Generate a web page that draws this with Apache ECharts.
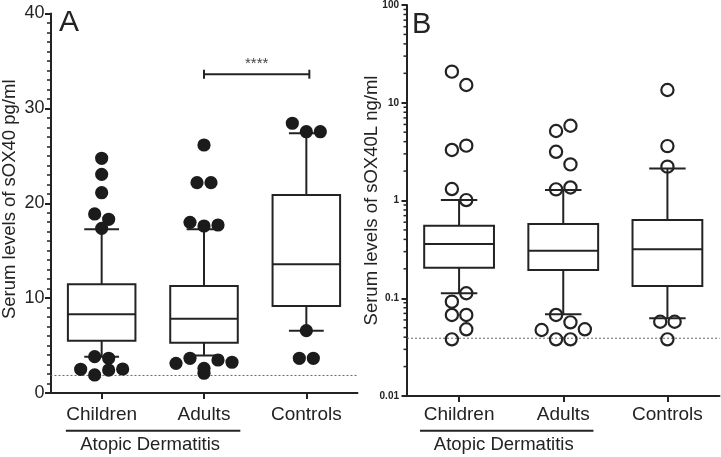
<!DOCTYPE html>
<html><head><meta charset="utf-8">
<script src="https://cdn.jsdelivr.net/npm/echarts@6/dist/echarts.min.js"></script>
<style>html,body{margin:0;padding:0;background:#fff}#c{width:721px;height:457px}</style>
</head><body><div id="c"></div>
<script>
// ---------- data ----------
const categories = ['Children', 'Adults', 'Controls'];
const groupLabel = 'Atopic Dermatitis';

// Panel A : sOX40 pg/ml (linear)
const aTitle = 'Serum levels of sOX40 pg/ml';
const aLowerWhisker = [3.83, 3.95, 6.57];
const aQ1 = [5.51, 5.3, 9.17];
const aMedian = [8.3, 7.83, 13.57];
const aQ3 = [11.46, 11.28, 20.87];
const aUpperWhisker = [17.25, 17.25, 27.37];
const aChildrenPoints = [24.74, 23.05, 21.11, 18.87, 18.31, 17.36, 3.83, 3.66, 2.5, 1.9, 2.42, 2.53];
const aAdultsPoints = [26.14, 22.17, 22.17, 17.99, 17.6, 17.71, 3.13, 3.66, 2.6, 3.48, 3.24, 2.08];
const aControlsPoints = [28.43, 27.54, 27.54, 6.57, 3.66, 3.66];
const aDetectionLimit = 1.85;
const sigFrom = 'Adults', sigTo = 'Controls', sigValue = 33.6, sigLabel = '****';

// Panel B : sOX40L ng/ml (log)
const bTitle = 'Serum levels of sOX40L ng/ml';
const bLowerWhisker = [0.1125, 0.0686, 0.0624];
const bQ1 = [0.205, 0.1945, 0.1334];
const bMedian = [0.359, 0.306, 0.317];
const bQ3 = [0.552, 0.575, 0.63];
const bUpperWhisker = [1.01, 1.28, 2.13];
const bChildrenPoints = [20.8, 15.2, 3.29, 3.64, 1.31, 1.01, 0.0923, 0.1125, 0.0675, 0.0675, 0.038, 0.0481];
const bAdultsPoints = [5.14, 5.82, 3.15, 2.34, 1.30, 1.36, 0.0675, 0.0567, 0.0473, 0.038, 0.038, 0.0481];
const bControlsPoints = [13.5, 3.6, 2.22, 0.0575, 0.0575, 0.038];
const bDetectionLimit = 0.039;
const bTickLabels = ['0.01', '0.1', '1', '10', '100'];

// ---------- helpers ----------
const FONT = "'Liberation Sans', Arial, Helvetica, sans-serif";
const INK = '#232323';

function withCat(arrs) {
  const out = [];
  arrs.forEach((arr, ci) => arr.forEach(v => out.push([ci, v])));
  return out;
}
const aDots = withCat([aChildrenPoints, aAdultsPoints, aControlsPoints]);
const bDots = withCat([bChildrenPoints, bAdultsPoints, bControlsPoints]);
const bMinorTicks = [];
for (let e = -2; e <= 1; e++) for (let m = 2; m <= 9; m++) bMinorTicks.push([0, m * Math.pow(10, e)]);

function boxRender(lower, q1, med, q3, upper, boxFrac, capFrac) {
  return function (params, api) {
    const i = params.dataIndex;
    const band = api.size([1, 0])[0];
    const bw = band * boxFrac, cw = band * capFrac;
    const x = api.coord([i, med[i]])[0];
    const y = v => api.coord([i, v])[1];
    const yl = y(lower[i]), y1 = y(q1[i]), ym = y(med[i]), y3 = y(q3[i]), yu = y(upper[i]);
    const st = { stroke: INK, lineWidth: 2, fill: null };
    const ln = (x1, y1_, x2, y2) => ({ type: 'line', shape: { x1, y1: y1_, x2, y2 }, style: st });
    return {
      type: 'group', children: [
        { type: 'rect', shape: { x: x - bw / 2, y: y3, width: bw, height: y1 - y3 }, style: st },
        ln(x - bw / 2, ym, x + bw / 2, ym),
        ln(x, y3, x, yu), ln(x, y1, x, yl),
        ln(x - cw / 2, yu, x + cw / 2, yu),
        ln(x - cw / 2, yl, x + cw / 2, yl)
      ]
    };
  };
}

function dotsRender(data, rowH, spacing, filled, r) {
  return function (params, api) {
    const ctx = params.context;
    if (!ctx.pos) {
      const pts = data.map((d, k) => { const p = api.coord(d); return { k, cat: d[0], x: p[0], y: p[1] }; });
      const pos = [];
      categories.forEach((c, ci) => {
        const g = pts.filter(p => p.cat === ci).sort((a, b) => a.y - b.y || a.k - b.k);
        let idx = 0;
        while (idx < g.length) {
          const y0 = g[idx].y;
          const row = [];
          while (idx < g.length && g[idx].y - y0 < rowH) { row.push(g[idx]); idx++; }
          row.sort((a, b) => a.k - b.k);
          row.forEach((p, j) => { pos[p.k] = [p.x + (j - (row.length - 1) / 2) * spacing, p.y]; });
        }
      });
      ctx.pos = pos;
    }
    const p = ctx.pos[params.dataIndex];
    return {
      type: 'circle', shape: { cx: p[0], cy: p[1], r },
      style: filled ? { fill: '#1b1b1b', stroke: null } : { fill: null, stroke: INK, lineWidth: 2.2 }
    };
  };
}

function limitRender(params, api) {
  const cs = params.coordSys;
  const y = api.coord([0, api.value(1)])[1];
  return { type: 'line', shape: { x1: cs.x, y1: y, x2: cs.x + cs.width, y2: y },
    style: { stroke: '#666', lineWidth: 1, lineDash: [2, 2] } };
}

function groupRender(leftFrac, rightFrac, lineDy, textDy) {
  return function (params, api) {
    const band = api.size([1, 0])[0];
    const cs = params.coordSys;
    const bottom = cs.y + cs.height;
    const x1 = api.coord([0, api.value(1)])[0] - leftFrac * band;
    const x2 = api.coord([1, api.value(1)])[0] + rightFrac * band;
    return {
      type: 'group', children: [
        { type: 'line', shape: { x1, y1: bottom + lineDy, x2, y2: bottom + lineDy }, style: { stroke: INK, lineWidth: 2 } },
        { type: 'text', x: (x1 + x2) / 2 - 3, y: bottom + textDy,
          style: { text: groupLabel, fill: INK, font: '18.5px ' + FONT, align: 'center', verticalAlign: 'middle' } }
      ]
    };
  };
}

function sigRender(params, api) {
  const p1 = api.coord([categories.indexOf(sigFrom), sigValue]);
  const p2 = api.coord([categories.indexOf(sigTo), sigValue]);
  const st = { stroke: INK, lineWidth: 2 };
  return {
    type: 'group', children: [
      { type: 'line', shape: { x1: p1[0], y1: p1[1], x2: p2[0] + 3, y2: p2[1] }, style: st },
      { type: 'line', shape: { x1: p1[0], y1: p1[1] - 4.5, x2: p1[0], y2: p1[1] + 4.5 }, style: st },
      { type: 'line', shape: { x1: p2[0] + 3, y1: p2[1] - 4.5, x2: p2[0] + 3, y2: p2[1] + 4.5 }, style: st },
      { type: 'text', x: (p1[0] + p2[0] + 3) / 2, y: p1[1] - 3,
        style: { text: sigLabel, fill: '#444', font: '15px ' + FONT, align: 'center', verticalAlign: 'bottom' } }
    ]
  };
}

function minorTickRender(params, api) {
  const cs = params.coordSys;
  const y = api.coord([0, api.value(1)])[1];
  return { type: 'line', shape: { x1: cs.x - 3.5, y1: y, x2: cs.x, y2: y }, style: { stroke: INK, lineWidth: 1.5 } };
}

function xAxisCfg(gridIndex, margin) {
  return {
    type: 'category', gridIndex, data: categories, boundaryGap: true,
    axisLine: { show: true, lineStyle: { color: INK, width: 2 } },
    axisTick: { show: true, alignWithLabel: true, length: 6, lineStyle: { width: 2, color: INK } },
    axisLabel: { fontSize: 19, color: INK, margin, fontFamily: FONT },
    splitLine: { show: false }
  };
}

const chart = echarts.init(document.getElementById('c'), null, { renderer: 'canvas' });
chart.setOption({
  animation: false,
  backgroundColor: '#fff',
  textStyle: { fontFamily: FONT },
  title: [
    { text: 'A', left: 59, top: 8, padding: 0, textStyle: { fontSize: 30, fontWeight: 'normal', color: INK, fontFamily: FONT } },
    { text: 'B', left: 412, top: 10, padding: 0, textStyle: { fontSize: 29, fontWeight: 'normal', color: INK, fontFamily: FONT } }
  ],
  grid: [
    { left: 50.5, top: 13.5, width: 307, height: 379.5, containLabel: false, outerBoundsMode: 'none' },
    { left: 407, top: 5, width: 312.5, height: 391, containLabel: false, outerBoundsMode: 'none' }
  ],
  xAxis: [xAxisCfg(0, 12.5), xAxisCfg(1, 9.5)],
  yAxis: [
    {
      type: 'value', gridIndex: 0, min: 0, max: 40, interval: 10,
      name: aTitle, nameLocation: 'middle', nameGap: 31.5, nameMoveOverlap: false,
      nameTextStyle: { fontSize: 18.5, color: INK, fontFamily: FONT, padding: [0, 0, 0, 8] },
      axisLine: { show: true, lineStyle: { color: INK, width: 2 } },
      axisTick: { show: true, length: 5.5, lineStyle: { width: 2, color: INK } },
      minorTick: { show: true, splitNumber: 10, length: 3.5, lineStyle: { width: 1.5, color: INK } },
      axisLabel: { fontSize: 18, color: INK, margin: 6, fontFamily: FONT },
      splitLine: { show: false }, minorSplitLine: { show: false }
    },
    {
      type: 'log', gridIndex: 1, logBase: 10, min: 0.01, max: 100, splitNumber: 4,
      name: bTitle, nameLocation: 'middle', nameGap: 25.5, nameMoveOverlap: false,
      nameTextStyle: { fontSize: 18.5, color: INK, fontFamily: FONT },
      axisLine: { show: true, lineStyle: { color: INK, width: 2 } },
      axisTick: { show: true, length: 5.5, lineStyle: { width: 2, color: INK } },
      axisLabel: {
        fontSize: 10, fontWeight: 'bold', color: INK, margin: 8, fontFamily: FONT,
        formatter: v => bTickLabels[Math.round(Math.log10(v)) + 2]
      },
      splitLine: { show: false }, minorTick: { show: false }
    }
  ],
  series: [
    { type: 'custom', xAxisIndex: 0, yAxisIndex: 0, clip: false, z: 1, renderItem: limitRender, data: [[0, aDetectionLimit]] },
    { type: 'custom', xAxisIndex: 1, yAxisIndex: 1, clip: false, z: 1, renderItem: limitRender, data: [[0, bDetectionLimit]] },
    { type: 'custom', xAxisIndex: 0, yAxisIndex: 0, clip: false, z: 2,
      renderItem: boxRender(aLowerWhisker, aQ1, aMedian, aQ3, aUpperWhisker, 0.66, 0.34),
      data: categories.map((c, i) => [i, aMedian[i]]) },
    { type: 'custom', xAxisIndex: 1, yAxisIndex: 1, clip: false, z: 2,
      renderItem: boxRender(bLowerWhisker, bQ1, bMedian, bQ3, bUpperWhisker, 0.67, 0.35),
      data: categories.map((c, i) => [i, bMedian[i]]) },
    { type: 'custom', xAxisIndex: 0, yAxisIndex: 0, clip: false, z: 3,
      renderItem: dotsRender(aDots, 11, 14, true, 6.6), data: aDots },
    { type: 'custom', xAxisIndex: 1, yAxisIndex: 1, clip: false, z: 3,
      renderItem: dotsRender(bDots, 13.8, 14.4, false, 6.1), data: bDots },
    { type: 'custom', xAxisIndex: 0, yAxisIndex: 0, clip: false, z: 3, renderItem: sigRender, data: [[1, sigValue]] },
    { type: 'custom', xAxisIndex: 1, yAxisIndex: 1, clip: false, z: 3, renderItem: minorTickRender, data: bMinorTicks },
    { type: 'custom', xAxisIndex: 0, yAxisIndex: 0, clip: false, z: 3, renderItem: groupRender(0.35, 0.355, 37.7, 52), data: [[0, 10]] },
    { type: 'custom', xAxisIndex: 1, yAxisIndex: 1, clip: false, z: 3, renderItem: groupRender(0.375, 0.29, 34.7, 49), data: [[0, 1]] }
  ]
});
</script>
</body></html>
